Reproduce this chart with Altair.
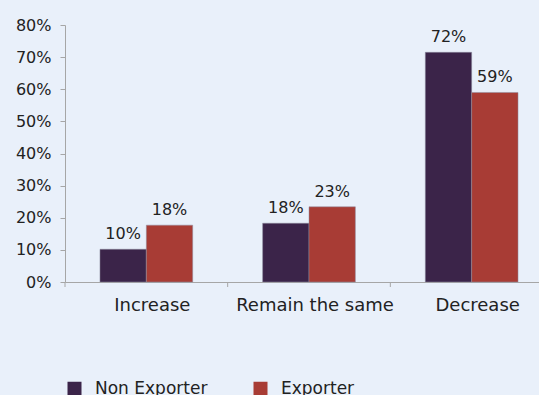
import altair as alt
import pandas as pd

categories = ["Increase", "Remain the same", "Decrease"]
series = ["Non Exporter", "Exporter"]
non_exporter = [0.102, 0.183, 0.715]
exporter = [0.177, 0.234, 0.59]
labels_non = ["10%", "18%", "72%"]
labels_exp = ["18%", "23%", "59%"]
colors = ["#3B2449", "#A83C35"]

rows = []
for c, v, l in zip(categories, non_exporter, labels_non):
    rows.append({"cat": c, "series": series[0], "value": v, "label": l})
for c, v, l in zip(categories, exporter, labels_exp):
    rows.append({"cat": c, "series": series[1], "value": v, "label": l})
df = pd.DataFrame(rows)

FONT = "DejaVu Sans"
PAD_INNER = 0.43
X_RANGE = 488
STEP = X_RANGE / (len(categories) - PAD_INNER + PAD_INNER)  # paddingOuter = PAD_INNER/2 each side

xscale = alt.Scale(domain=categories, paddingInner=PAD_INNER, paddingOuter=PAD_INNER / 2,
                   range=[0, X_RANGE])
x = alt.X("cat:N", scale=xscale, sort=categories,
          axis=alt.Axis(title=None, labelAngle=0, ticks=False, labelPadding=14,
                        labelOffset=6,
                        labelFontSize=18, labelColor="#222222", labelFont=FONT,
                        domainColor="#A6A6A6"))
y = alt.Y("value:Q", scale=alt.Scale(domain=[0, 0.8]),
          axis=alt.Axis(title=None, format=".0%", values=[i / 10 for i in range(9)],
                        grid=False, tickSize=5, tickColor="#A6A6A6", domainColor="#A6A6A6",
                        labelPadding=9, labelFontSize=16, labelColor="#222222", labelFont=FONT))
xoff = alt.XOffset("series:N", sort=series, scale=alt.Scale(paddingInner=0, paddingOuter=0))

bars = alt.Chart(df).mark_bar(stroke="#8f8fa0", strokeWidth=0.5).encode(
    x=x, y=y, xOffset=xoff,
    color=alt.Color("series:N", sort=series, scale=alt.Scale(domain=series, range=colors),
                    legend=alt.Legend(title=None, orient="none", legendX=1, legendY=355,
                                      direction="horizontal", symbolType="square",
                                      symbolSize=196, symbolStrokeWidth=0,
                                      labelFontSize=17, labelFont=FONT, labelColor="#222222",
                                      labelOffset=12, columnPadding=44, symbolOpacity=1,
                                      labelLimit=200)),
)

text = alt.Chart(df).mark_text(baseline="alphabetic", dy=-10, fontSize=16, font=FONT,
                               color="#222222").encode(
    x=x, y=y, xOffset=xoff, text="label:N")

# category-boundary tick marks on the x axis (midway through the inner padding)
tick_df = pd.DataFrame({"cat": categories})
ticks = alt.Chart(tick_df).mark_rule(color="#A6A6A6", xOffset=-PAD_INNER * STEP / 2).encode(
    x=alt.X("cat:N", scale=xscale, sort=categories, bandPosition=0),
    y=alt.value(257), y2=alt.value(262))

chart = alt.layer(bars, text, ticks).properties(
    width=474, height=257,
    autosize=alt.AutoSizeParams(type="none"),
    padding={"left": 65, "top": 25, "right": 0, "bottom": 113},
    background="#E9F0FA",
).configure_view(stroke=None)

chart.save("out.html", embed_options={"renderer": "svg", "actions": False})
